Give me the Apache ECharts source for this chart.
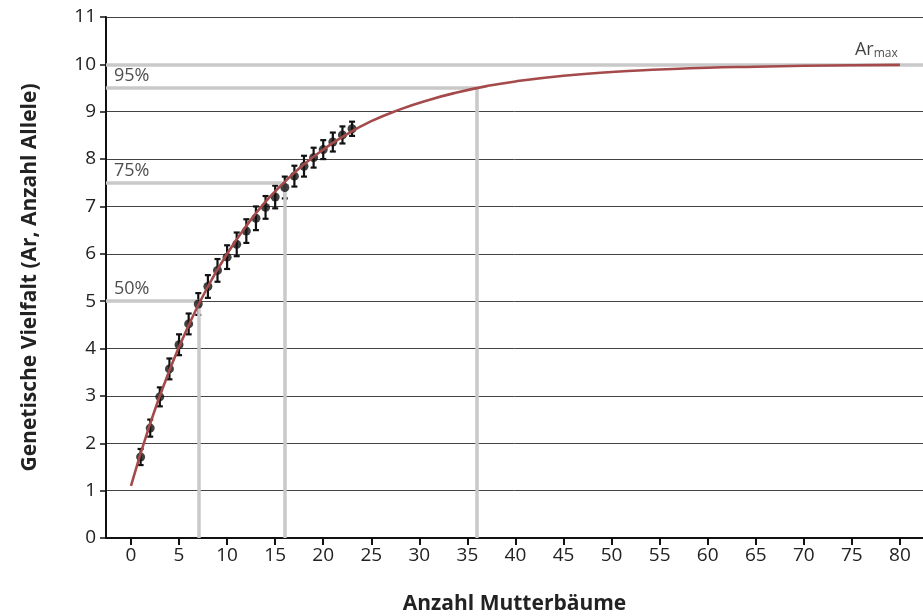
<!DOCTYPE html>
<html>
<head>
<meta charset="utf-8">
<script src="https://cdn.jsdelivr.net/npm/echarts@6/dist/echarts.min.js"></script>
<style>html,body{margin:0;padding:0;background:#fff}#c{width:923px;height:616px}</style>
</head>
<body>
<div id="c"></div>
<script>
// Observed data: number of mother trees vs. allelic richness
const obsX = [1,2,3,4,5,6,7,8,9,10,11,12,13,14,15,16,17,18,19,20,21,22,23];
const obsY = [1.71,2.32,2.98,3.57,4.08,4.52,4.94,5.31,5.65,5.93,6.20,6.48,6.75,6.98,7.20,7.40,7.64,7.85,8.03,8.20,8.36,8.51,8.64];
const obsErr = [0.17,0.18,0.2,0.22,0.22,0.22,0.23,0.24,0.24,0.25,0.25,0.25,0.25,0.24,0.24,0.23,0.22,0.22,0.21,0.2,0.2,0.18,0.15];
// Fitted saturation curve
const curveX = [0,2,4,6,8,10,12,14,16,18,20,22,25,28,31,34,37,40,45,50,55,60,65,70,75,80];
const curveY = [1.10,2.42,3.54,4.49,5.31,6.00,6.59,7.10,7.52,7.89,8.20,8.47,8.80,9.05,9.25,9.41,9.54,9.64,9.76,9.84,9.89,9.93,9.95,9.97,9.98,9.99];
// Reference levels: label, y value, x where curve reaches it
const refLabels = ['50%','75%','95%'];
const refY = [5, 7.5, 9.5];
const refX = [7, 16, 36];
const arMax = 10;
const arMaxLabelX = 80;
const xTicks = [0,5,10,15,20,25,30,35,40,45,50,55,60,65,70,75,80];

const XMIN = -2.6, XMAX = 82.4;
const FONT = 'Open Sans';
const GRAY = '#c9c9c9';

const markData = [];
refY.forEach((y, i) => {
  markData.push([{coord: [XMIN, y]}, {coord: [refX[i], y]}]);
  markData.push([{coord: [refX[i], 0]}, {coord: [refX[i], y]}]);
});
markData.push([{coord: [XMIN, arMax]}, {coord: [XMAX, arMax]}]);

const chart = echarts.init(document.getElementById('c'));
chart.setOption({
  animation: false,
  backgroundColor: '#fff',
  grid: {left: 106, right: 0, top: 17, bottom: 78, containLabel: false, outerBoundsMode: 'none'},
  xAxis: {
    type: 'value', min: XMIN, max: XMAX,
    name: 'Anzahl Mutterbäume', nameLocation: 'middle', nameGap: 56,
    nameTextStyle: {fontSize: 21, fontWeight: 'bold', color: '#222', fontFamily: FONT},
    axisLine: {show: true, onZero: false, lineStyle: {color: '#111', width: 2}},
    axisTick: {show: true, customValues: xTicks, length: 7, lineStyle: {color: '#111', width: 2}},
    axisLabel: {customValues: xTicks, fontSize: 19, color: '#222', margin: 8, fontFamily: FONT},
    splitLine: {show: false}
  },
  yAxis: {
    type: 'value', min: 0, max: 11, interval: 1,
    name: 'Genetische Vielfalt (Ar, Anzahl Allele)', nameLocation: 'middle', nameGap: 65,
    nameTextStyle: {fontSize: 21, fontWeight: 'bold', color: '#222', fontFamily: FONT},
    axisLine: {show: true, onZero: false, lineStyle: {color: '#111', width: 2}},
    axisTick: {show: true, length: 6, lineStyle: {color: '#111', width: 1.5}},
    axisLabel: {fontSize: 19, color: '#222', margin: 10, fontFamily: FONT},
    splitLine: {show: true, lineStyle: {color: '#444', width: 1}}
  },
  series: [
    {
      type: 'line', data: [], silent: true,
      markLine: {symbol: 'none', silent: true, animation: false,
        lineStyle: {color: GRAY, width: 3.5, type: 'solid'},
        label: {show: false}, emphasis: {disabled: true},
        data: markData}
    },
    {
      type: 'scatter', silent: true, symbolSize: 0, z: 7,
      data: refY.map((y, i) => ({value: [XMIN, y], label: {formatter: refLabels[i]}})),
      label: {show: true, position: [8, -21], color: '#222', fontSize: 18, fontFamily: FONT, align: 'left'}
    },
    {
      type: 'scatter', silent: true, symbolSize: 0, z: 7,
      data: [[arMaxLabelX, arMax]],
      label: {show: true, position: [-45, -24], align: 'left', formatter: '{a|Ar}{b|max}',
        rich: {a: {fontSize: 18, color: '#111', fontFamily: FONT}, b: {fontSize: 12, color: '#222', fontFamily: FONT, padding: [7,0,0,0]}}}
    },
    {
      type: 'custom', z: 4,
      data: obsX.map((x, i) => [x, obsY[i] - obsErr[i], obsY[i] + obsErr[i]]),
      renderItem: function (params, api) {
        const lo = api.coord([api.value(0), api.value(1)]);
        const hi = api.coord([api.value(0), api.value(2)]);
        const w = 3;
        const st = {stroke: '#111', lineWidth: 2.2};
        return {type: 'group', children: [
          {type: 'line', shape: {x1: lo[0], y1: lo[1], x2: hi[0], y2: hi[1]}, style: st},
          {type: 'line', shape: {x1: lo[0]-w, y1: lo[1], x2: lo[0]+w, y2: lo[1]}, style: st},
          {type: 'line', shape: {x1: hi[0]-w, y1: hi[1], x2: hi[0]+w, y2: hi[1]}, style: st}
        ]};
      }
    },
    {
      type: 'scatter', z: 5, symbol: 'circle', symbolSize: 9,
      itemStyle: {color: '#111'},
      data: obsX.map((x, i) => [x, obsY[i]])
    },
    {
      type: 'line', z: 6, smooth: true, symbol: 'none',
      lineStyle: {color: '#a54a4a', width: 2.6},
      data: curveX.map((x, i) => [x, curveY[i]])
    }
  ]
});
</script>
</body>
</html>
